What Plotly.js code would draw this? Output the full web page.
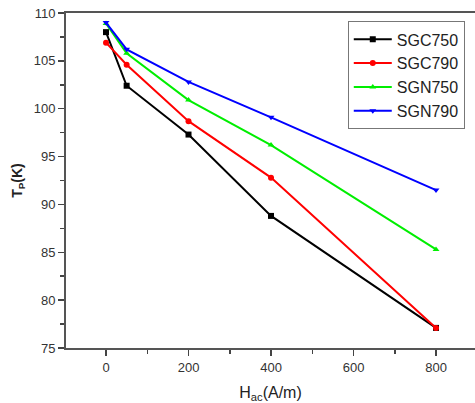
<!DOCTYPE html>
<html>
<head>
<meta charset="utf-8">
<script src="https://cdn.plot.ly/plotly-3.0.1.min.js"></script>
<style>html,body{margin:0;padding:0;overflow:hidden;background:#fff}</style>
</head>
<body>
<div id="chart" style="width:475px;height:403px"></div>
<script>
const hac = [0, 50, 200, 400, 800];
const sgc750 = [108.0, 102.4, 97.3, 88.8, 77.1];
const sgc790 = [106.9, 104.6, 98.7, 92.8, 77.1];
const sgn750 = [108.9, 105.8, 100.9, 96.2, 85.3];
const sgn790 = [109.0, 106.2, 102.8, 99.1, 91.5];
const names = ['SGC750', 'SGC790', 'SGN750', 'SGN790'];
const series = [sgc750, sgc790, sgn750, sgn790];
const colors = ['#000000', '#ff0000', '#00ee00', '#0000ff'];
const symbols = ['square', 'circle', 'triangle-up', 'triangle-down'];

const traces = series.map((s, i) => ({
  x: hac, y: s, name: names[i], type: 'scatter', mode: 'lines+markers',
  line: {color: colors[i], width: 2},
  marker: {color: colors[i], symbol: symbols[i], size: 6}
}));

const axisCommon = {
  showline: true, linecolor: '#555', linewidth: 2,
  ticks: 'outside', ticklen: 6, tickwidth: 1.5, tickcolor: '#444',
  showgrid: false, zeroline: false,
  tickfont: {family: 'Liberation Sans, Arial, sans-serif', size: 13, color: '#333'}
};

const layout = {
  width: 475, height: 403,
  margin: {l: 66, r: 0, t: 13, b: 55},
  paper_bgcolor: '#fff', plot_bgcolor: '#fff',
  showlegend: true,
  legend: {
    x: 0.975, y: 0.975, xanchor: 'right', yanchor: 'top',
    bordercolor: '#777', borderwidth: 1, bgcolor: '#fff',
    font: {family: 'Liberation Sans, Arial, sans-serif', size: 16, color: '#222'},
    tracegroupgap: 0, itemwidth: 38
  },
  xaxis: Object.assign({}, axisCommon, {
    range: [-97, 894.5], tickmode: 'linear', tick0: 0, dtick: 200, mirror: true,
    minor: {ticks: 'outside', ticklen: 4, tickwidth: 1.5, tickcolor: '#444', dtick: 100, tick0: 0, showgrid: false},
    title: {text: 'H<sub>ac</sub>(A/m)', standoff: 14,
      font: {family: 'Liberation Sans, Arial, sans-serif', size: 16, color: '#222'}}
  }),
  yaxis: Object.assign({}, axisCommon, {
    range: [75, 110], tickmode: 'linear', tick0: 75, dtick: 5,
    minor: {ticks: 'outside', ticklen: 4, tickwidth: 1.5, tickcolor: '#444', dtick: 2.5, tick0: 75, showgrid: false},
    title: {text: '<b>T<sub>P</sub>(K)</b>', standoff: 8,
      font: {family: 'Liberation Sans, Arial, sans-serif', size: 14, color: '#222'}}
  })
};

Plotly.newPlot('chart', traces, layout, {displayModeBar: false, staticPlot: true});
</script>
</body>
</html>
